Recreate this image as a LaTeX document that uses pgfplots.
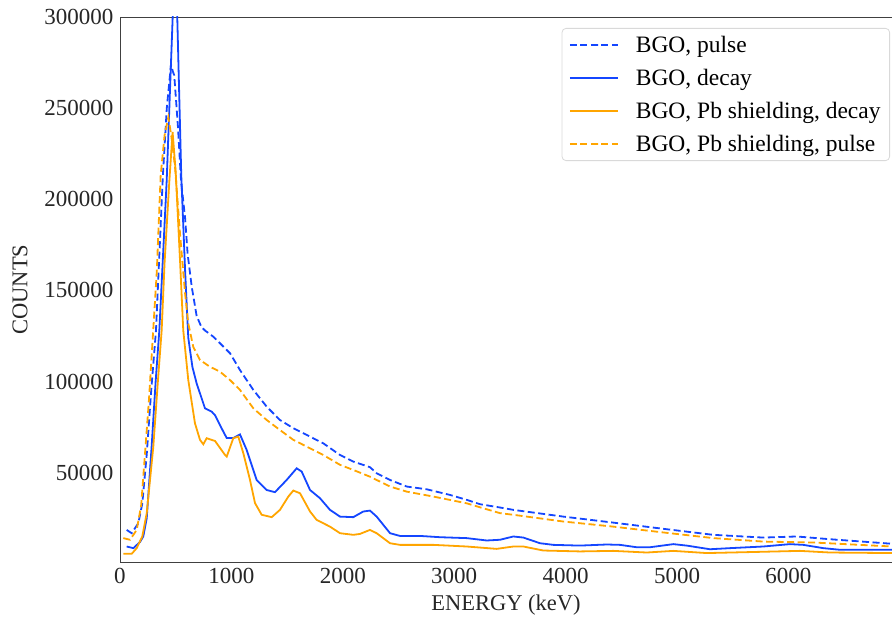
\documentclass[border=0pt]{standalone}
\usepackage{pgfplots}
\pgfplotsset{compat=1.18}
\usepackage{fontspec}
\setmainfont{Liberation Serif}
\definecolor{cblue}{RGB}{20,70,255}
\definecolor{corange}{RGB}{255,165,0}
\begin{document}
\begin{tikzpicture}
\begin{axis}[
  name=ax,
  scale only axis,
  width=772pt, height=545pt,
  xmin=0, xmax=6930,
  ymin=1000, ymax=300000,
  xtick={0,1000,2000,3000,4000,5000,6000},
  xticklabels={0,1000,2000,3000,4000,5000,6000},
  ytick={50000,100000,150000,200000,250000,300000},
  yticklabels={50000,100000,150000,200000,250000,300000},
  scaled ticks=false,
  major tick length=0pt,
  axis line style={draw=black!75, line width=0.9pt},
  tick label style={font=\fontsize{23}{27}\selectfont, text=black!85},
  label style={font=\fontsize{22.5}{26}\selectfont, text=black!85},
  xlabel={ENERGY (keV)},
  ylabel={COUNTS},
  xlabel style={yshift=-4pt},
  ylabel style={yshift=10pt},
  xticklabel style={yshift=-3pt},
  yticklabel style={xshift=-3pt},
  every axis plot/.append style={line width=1.8pt},
  legend cell align=left,
  legend style={
    at={(rel axis cs:1,1)}, anchor=north east, xshift=-2pt, yshift=-11pt,
    font=\fontsize{23.5}{27}\selectfont,
    draw=black!15, rounded corners=4pt, line width=0.8pt,
    inner xsep=7pt, inner ysep=6pt,
    row sep=11pt, column sep=15pt,
  },
  legend image code/.code={\draw[mark repeat=2,mark phase=2,#1] plot coordinates {(0pt,0pt) (24pt,0pt) (48pt,0pt)};},
  clip=true,
]
% BGO, pulse
\addplot[cblue, dash pattern=on 7pt off 3.5pt] coordinates {
(60,18600) (105,16800) (165,22300) (200,33000) (240,60000) (280,95000) (323,128000)
(385,213000) (420,250000) (458,274000) (475,270000) (487,268000) (520,240000)
(548,210000) (584,190000) (607,170000) (644,152000) (688,136000) (730,130000)
(763,128000) (838,124600) (898,121000) (988,115500) (1077,106300) (1197,95400)
(1317,86200) (1436,78900) (1556,74400) (1676,70700) (1825,66100) (1975,59700)
(2094,56100) (2244,53000) (2304,49700) (2424,46000) (2574,42400) (2753,40900)
(2962,37800) (3112,35100) (3232,32700) (3411,30900) (3531,29600) (3980,25900)
(4429,22600) (4878,19200) (5326,15900) (5775,14400) (6075,15000) (6373,13500)
(6930,11000)
};
\addlegendentry{BGO, pulse}
% BGO, decay
\addplot[cblue] coordinates {
(60,9500) (120,8600) (180,12000) (209,15000) (240,25000) (284,64300) (320,100000)
(353,128000) (383,165000) (419,210000) (450,262000) (473,300000) (494,315000)
(514,300000) (550,213000) (585,160000) (613,124000) (650,108000) (688,99000)
(763,85300) (823,83500) (853,81500) (898,76000) (958,69000) (1017,69000)
(1077,71000) (1137,62500) (1227,46000) (1317,40500) (1391,39300) (1496,46000)
(1586,52400) (1631,50600) (1706,40500) (1795,36000) (1885,29600) (1975,25900)
(2094,25600) (2184,28700) (2244,29200) (2304,25900) (2424,16800) (2513,15300)
(2693,15300) (2873,14600) (3112,14100) (3292,12800) (3411,13200) (3531,15000)
(3621,14400) (3770,11300) (3890,10400) (4129,10000) (4369,10600) (4488,10400)
(4638,9100) (4758,9100) (4967,10800) (5087,10000) (5296,8000) (5476,8600)
(5775,9500) (6014,10800) (6134,10400) (6313,8600) (6463,7700) (6930,7700)
};
\addlegendentry{BGO, decay}
% BGO, Pb shielding, decay
\addplot[corange] coordinates {
(30,5500) (105,5500) (150,8600) (200,15000) (240,27800) (299,64300) (340,100000)
(374,128000) (400,165000) (443,210000) (472,237000) (500,215000) (540,165000)
(568,128000) (613,100800) (673,77100) (718,68000) (748,65600) (778,68900)
(808,68300) (853,67400) (943,59700) (958,58800) (1017,68900) (1062,69800)
(1107,60700) (1167,46000) (1212,33300) (1272,26900) (1362,25600) (1436,29600)
(1511,36900) (1556,40200) (1616,38700) (1706,28700) (1765,24100) (1885,20400)
(1975,16800) (2094,15900) (2154,16400) (2244,18600) (2304,16800) (2424,11300)
(2513,10400) (2813,10400) (3112,9500) (3381,8200) (3531,9500) (3621,9500)
(3800,7300) (4129,6800) (4429,7100) (4728,6200) (4967,7100) (5266,5900)
(5626,6400) (6104,7100) (6373,6200) (6930,5900)
};
\addlegendentry{BGO, Pb shielding, decay}
% BGO, Pb shielding, pulse
\addplot[corange, dash pattern=on 7pt off 3.5pt] coordinates {
(30,14100) (90,13200) (150,18600) (190,32000) (224,60000) (260,90000) (290,120000)
(330,160000) (365,213000) (400,235000) (434,245000) (460,235000) (494,217700)
(539,181000) (584,148500) (613,131900) (658,119000) (718,111800) (808,108100)
(898,105400) (988,100800) (1077,95400) (1197,85300) (1317,78900) (1436,73400)
(1556,68000) (1676,64300) (1825,59700) (1975,54300) (2094,51500) (2244,47800)
(2334,45100) (2424,42400) (2574,39600) (2813,36900) (3112,33200) (3232,31000)
(3411,27800) (3531,26900) (3980,23200) (4429,20400) (4878,17200) (5326,14100)
(5775,12200) (6223,11700) (6930,9500)
};
\addlegendentry{BGO, Pb shielding, pulse}
\end{axis}
\path (ax.south west) ++(-120pt,-59pt) coordinate (bbA);
\path (ax.north east) ++(0pt,17pt) coordinate (bbB);
\pgfresetboundingbox
\path (bbA) rectangle (bbB);
\end{tikzpicture}
\end{document}
